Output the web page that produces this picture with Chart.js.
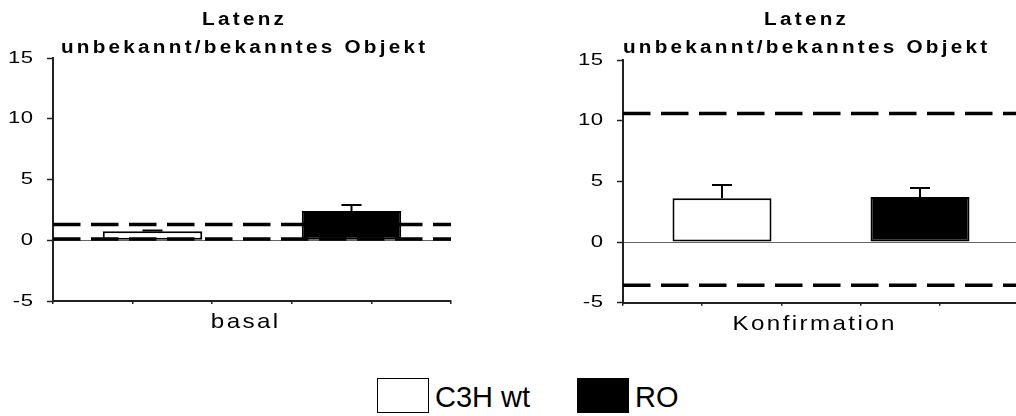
<!DOCTYPE html>
<html>
<head>
<meta charset="utf-8">
<script src="https://cdn.jsdelivr.net/npm/chart.js@4.4.0/dist/chart.umd.min.js"></script>
<style>
  html, body { margin: 0; padding: 0; background: #fff; }
  body { position: relative; width: 1016px; height: 416px; overflow: hidden; font-family: 'Liberation Sans', Arial, sans-serif; }
  canvas { position: absolute; top: 0; }
  #basal { left: 0; }
  #konf { left: 560px; }
  .box { position: absolute; top: 378px; width: 50px; height: 33px; border: 1px solid #000; }
  .lbl { position: absolute; top: 380px; font-size: 29px; line-height: 35px; color: #000; white-space: nowrap; }
</style>
</head>
<body>
<canvas id="basal" width="486" height="340"></canvas>
<canvas id="konf" width="500" height="340"></canvas>
<script>
const titleLines = ['Latenz', 'unbekannt/bekanntes Objekt'];
const groups = ['C3H wt', 'RO'];
const groupColors = ['#ffffff', '#000000'];

const basalLabels = ['basal'];
const basalMeans = [0.74, 2.41];
const basalErrors = [0.06, 0.5];
const basalLimits = [1.29, 0.1];

const konfLabels = ['Konfirmation'];
const konfMeans = [3.6, 3.71];
const konfErrors = [1.1, 0.74];
const konfLimits = [10.6, -3.57];

const yMin = -5;
const yMax = 15;
const yStep = 5;

Chart.defaults.font.family = "'Liberation Sans', Arial, sans-serif";
Chart.defaults.color = '#000';

// dashed horizontal limit lines across the plot
const limitLines = {
    id: 'limitLines',
    afterDatasetsDraw(chart, args, opts) {
        const ctx = chart.ctx;
        const y = chart.scales.y;
        const area = chart.chartArea;
        ctx.save();
        ctx.strokeStyle = '#000';
        ctx.lineWidth = 3.5;
        ctx.setLineDash([27.5, 10.5]);
        (opts.values || []).forEach(v => {
            const py = y.getPixelForValue(v);
            ctx.beginPath();
            ctx.moveTo(area.left, py);
            ctx.lineTo(area.right, py);
            ctx.stroke();
        });
        ctx.restore();
    }
};

// whiskers above each bar (mean + error)
const errorBars = {
    id: 'errorBars',
    afterDatasetsDraw(chart) {
        const ctx = chart.ctx;
        const y = chart.scales.y;
        chart.data.datasets.forEach((ds, i) => {
            if (!ds.errors) return;
            chart.getDatasetMeta(i).data.forEach((bar, j) => {
                const top = y.getPixelForValue(ds.data[j] + ds.errors[j]);
                ctx.save();
                ctx.strokeStyle = '#000';
                ctx.lineWidth = 2;
                ctx.beginPath();
                ctx.moveTo(bar.x, bar.y);
                ctx.lineTo(bar.x, top);
                ctx.moveTo(bar.x - 10, top);
                ctx.lineTo(bar.x + 10, top);
                ctx.stroke();
                ctx.restore();
            });
        });
    }
};

// the original's lettering is a little wide and spaced out
function wideFill(ctx, sx, spacing) {
    const orig = CanvasRenderingContext2D.prototype.fillText;
    return function (text, x, y) {
        const chars = [...String(text)];
        const widths = chars.map(ch => ctx.measureText(ch).width * sx);
        const total = widths.reduce((a, b) => a + b, 0) + spacing * (chars.length - 1);
        const align = ctx.textAlign;
        let cx = x;
        if (align === 'center') cx = x - total / 2;
        else if (align === 'right' || align === 'end') cx = x - total;
        ctx.textAlign = 'left';
        chars.forEach((ch, i) => {
            ctx.save();
            ctx.translate(cx, y);
            ctx.scale(sx, 1);
            orig.call(ctx, ch, 0, 0);
            ctx.restore();
            cx += widths[i] + spacing;
        });
        ctx.textAlign = align;
    };
}

function widened(fn, ctx, look, dx) {
    return function (...args) {
        ctx.save();
        if (dx) ctx.translate(dx, 0);
        ctx.fillText = wideFill(ctx, look[0], look[1]);
        fn.apply(this, args);
        delete ctx.fillText;
        ctx.restore();
    };
}

const wideText = {
    id: 'wideText',
    beforeDraw(chart, args, opts) {
        if (chart.$wide) return;
        chart.$wide = true;
        const ctx = chart.ctx;
        chart.titleBlock.draw = widened(chart.titleBlock.draw, ctx, opts.title, opts.titleShift);
        chart.scales.y.drawLabels = widened(chart.scales.y.drawLabels, ctx, opts.ticks, 0);
        chart.scales.xt.drawTitle = widened(chart.scales.xt.drawTitle, ctx, opts.axisTitle, opts.axisShift);
    }
};

function makePanel(canvasId, labels, means, errors, limits, geo) {
    const datasets = groups.map((name, i) => ({
        label: name,
        data: [means[i]],
        errors: [errors[i]],
        backgroundColor: groupColors[i],
        borderColor: '#000',
        borderWidth: 2,
        borderSkipped: false,
        categoryPercentage: 1,
        barPercentage: 0.5
    }));

    return new Chart(document.getElementById(canvasId), {
        type: 'bar',
        data: { labels: labels, datasets: datasets },
        options: {
            responsive: false,
            animation: false,
            devicePixelRatio: 1,
            layout: { padding: { left: 0, top: 0, right: geo.padRight, bottom: geo.padBottom } },
            plugins: {
                legend: { display: false },
                tooltip: { enabled: false },
                title: {
                    display: true,
                    text: titleLines,
                    color: '#000',
                    font: { size: 18, weight: 'bold', lineHeight: 1.55 },
                    padding: { top: 6, bottom: geo.titleGap }
                },
                limitLines: { values: limits },
                wideText: {
                    title: [1.15, 3.25], titleShift: geo.titleShift,
                    ticks: [1.3, 0.5],
                    axisTitle: [1.15, 2.4], axisShift: -7.5
                }
            },
            scales: {
                x: { type: 'category', display: false },
                xt: {
                    type: 'linear',
                    position: 'bottom',
                    min: 0,
                    max: 4,
                    ticks: { stepSize: 1, display: false },
                    grid: { drawOnChartArea: false, drawTicks: true, tickLength: 3, color: '#222', lineWidth: 1.5 },
                    border: { display: true, color: '#222', width: 2 },
                    title: {
                        display: true,
                        text: labels[0],
                        color: '#000',
                        font: { size: 21, lineHeight: 1.2 },
                        padding: { top: 6, bottom: 0 }
                    }
                },
                y: {
                    min: yMin,
                    max: yMax,
                    ticks: { stepSize: yStep, color: '#000', font: { size: 17 }, padding: 14 },
                    grid: {
                        color: c => (c.tick && c.tick.value === 0) ? '#666' : 'rgba(0,0,0,0)',
                        lineWidth: 1,
                        drawTicks: true,
                        tickLength: 6,
                        tickColor: '#222',
                        tickWidth: 1.5
                    },
                    border: { display: true, color: '#222', width: 2 },
                    afterFit: scale => { scale.width = geo.axisWidth; }
                }
            }
        },
        plugins: [limitLines, errorBars, wideText]
    });
}

makePanel('basal', basalLabels, basalMeans, basalErrors, basalLimits,
    { axisWidth: 53, padRight: 35, padBottom: 4.8, titleGap: -3.8, titleShift: 17.5 });
makePanel('konf', konfLabels, konfMeans, konfErrors, konfLimits,
    { axisWidth: 63, padRight: 41, padBottom: 3.1, titleGap: -1.8, titleShift: 15.5 });

// legend below both panels
const legendLeft = [377, 577];
groups.forEach((name, i) => {
    const box = document.createElement('div');
    box.className = 'box';
    box.style.left = legendLeft[i] + 'px';
    box.style.background = groupColors[i];
    document.body.appendChild(box);

    const lbl = document.createElement('div');
    lbl.className = 'lbl';
    lbl.style.left = (legendLeft[i] + 58) + 'px';
    lbl.textContent = name;
    document.body.appendChild(lbl);
});
</script>
</body>
</html>
